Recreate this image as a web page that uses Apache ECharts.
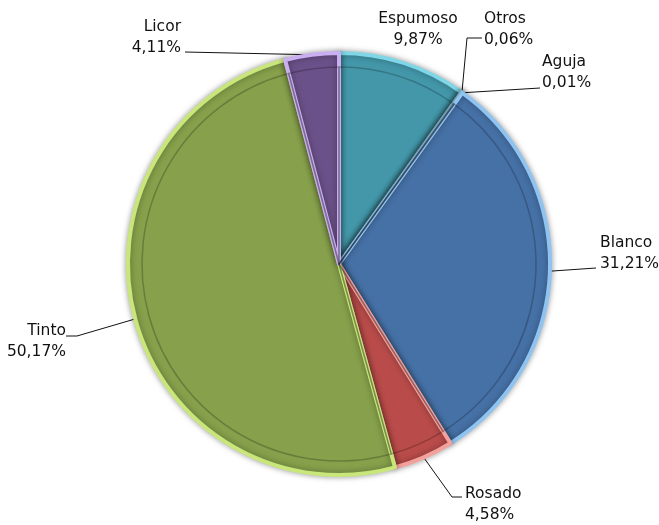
<!DOCTYPE html>
<html>
<head>
<meta charset="utf-8">
<script src="https://cdn.jsdelivr.net/npm/echarts@6/dist/echarts.min.js"></script>
<style>
  html, body { margin: 0; padding: 0; background: #fff; }
  #chart { width: 659px; height: 525px; }
</style>
</head>
<body>
<div id="chart"></div>
<script>
// vino: reparto por tipo (%)
const categories = ['Espumoso', 'Otros', 'Aguja', 'Blanco', 'Rosado', 'Tinto', 'Licor'];
const shares = [9.87, 0.06, 0.01, 31.21, 4.58, 50.17, 4.11];

const faceColors = ['#4397a9', '#8ef2ff', '#2f5a8c', '#4671a6', '#b94c4a', '#86a04b', '#6b5189'];
const edgeColors = ['#7fd6e6', '#c8fbff', '#5f8fc4', '#8fc3f0', '#f4a09c', '#c8e67a', '#c9aef0'];

// where each label sits and how its leader line bends
const labelPos = {
    Espumoso: { x: 418, y: 29, align: 'center', line: null },
    Otros:    { x: 484, y: 29, align: 'left',   line: [[467, 38], [482, 38]] },
    Aguja:    { x: 542, y: 72, align: 'left',   line: [[540, 88]] },
    Blanco:   { x: 600, y: 253, align: 'left',  line: [[596, 268]] },
    Rosado:   { x: 465, y: 504, align: 'left',  line: [[452, 497], [462, 497]] },
    Tinto:    { x: 66, y: 341, align: 'right',  line: [[77, 336], [66, 336]] },
    Licor:    { x: 181, y: 37, align: 'right',  line: [[185, 52]] }
};

const fmt = v => v.toFixed(2).replace('.', ',') + '%';

const chart = echarts.init(document.getElementById('chart'));

const mainData = categories.map((name, i) => ({
    name: name,
    value: shares[i],
    itemStyle: { color: faceColors[i], borderColor: edgeColors[i] },
    labelLine: { show: labelPos[name].line !== null }
}));

chart.setOption({
    animation: false,
    series: [
        {
            type: 'pie',
            center: [339, 264],
            radius: [0, 211],
            startAngle: 90,
            clockwise: true,
            avoidLabelOverlap: false,
            itemStyle: {
                borderWidth: 4,
                shadowBlur: 6,
                shadowColor: 'rgba(0,0,0,0.35)'
            },
            label: {
                show: true,
                formatter: p => p.name + '\n' + fmt(p.value),
                fontFamily: 'DejaVu Sans',
                fontSize: 15.5,
                lineHeight: 21,
                color: '#111'
            },
            labelLine: {
                show: true,
                length: 10,
                length2: 10,
                lineStyle: { color: '#111', width: 1 }
            },
            labelLayout: function (params) {
                const pos = labelPos[categories[params.dataIndex]];
                const out = {
                    x: pos.x,
                    y: pos.y,
                    align: pos.align,
                    verticalAlign: 'middle'
                };
                if (pos.line && params.labelLinePoints) {
                    out.labelLinePoints = [params.labelLinePoints[0]].concat(pos.line);
                }
                return out;
            },
            data: mainData
        },
        {
            // inner bevel line
            type: 'pie',
            center: [339, 264],
            radius: [0, 197],
            startAngle: 90,
            clockwise: true,
            silent: true,
            label: { show: false },
            labelLine: { show: false },
            itemStyle: {
                color: 'rgba(0,0,0,0)',
                borderColor: 'rgba(0,0,0,0.22)',
                borderWidth: 1.5
            },
            data: categories.map((name, i) => ({ name: name, value: shares[i] }))
        }
    ]
});
</script>
</body>
</html>
